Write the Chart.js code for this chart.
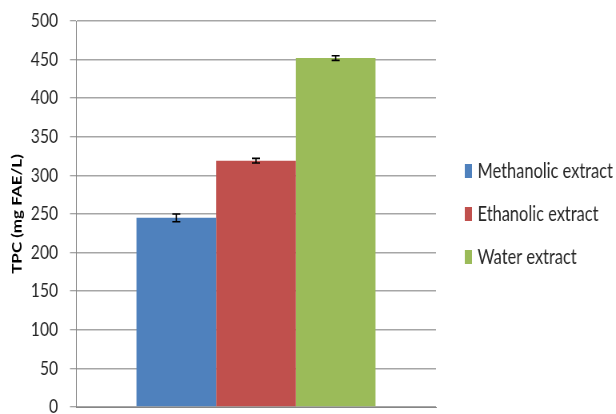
<!DOCTYPE html>
<html>
<head>
<meta charset="utf-8">
<script src="https://cdn.jsdelivr.net/npm/chart.js@4.4.0/dist/chart.umd.min.js"></script>
<style>
  html, body { margin: 0; padding: 0; background: #fff; overflow: hidden; }
  #wrap { width: 770px; height: 428px; transform: scaleX(0.8); transform-origin: 0 0; }
</style>
</head>
<body>
<div id="wrap"><canvas id="c" width="770" height="428"></canvas></div>
<script>
// ── Data ───────────────────────────────────────────────────────
const categories = [''];
const seriesNames = ['Methanolic extract', 'Ethanolic extract', 'Water extract'];
const seriesValues = [245, 319, 452];
const seriesErrors = [5, 3, 3];
const seriesColors = ['#4f81bd', '#c0504d', '#9bbb59'];
const yTicks = [0, 50, 100, 150, 200, 250, 300, 350, 400, 450, 500];

const FONT = 'Lato, "Open Sans", sans-serif';

// error bars drawn off the y scale
const errorBars = {
    id: 'errorBars',
    afterDatasetsDraw(chart) {
        const ctx = chart.ctx;
        const y = chart.scales.y;
        ctx.save();
        ctx.strokeStyle = '#000';
        ctx.lineWidth = 1.6;
        chart.data.datasets.forEach((ds, i) => {
            const bar = chart.getDatasetMeta(i).data[0];
            const top = y.getPixelForValue(ds.data[0] + seriesErrors[i]);
            const bot = y.getPixelForValue(ds.data[0] - seriesErrors[i]);
            const x = bar.x, w = 5;
            ctx.beginPath();
            ctx.moveTo(x, top); ctx.lineTo(x, bot);
            ctx.moveTo(x - w, top); ctx.lineTo(x + w, top);
            ctx.moveTo(x - w, bot); ctx.lineTo(x + w, bot);
            ctx.stroke();
        });
        ctx.restore();
    },
};

// legend on the right, placed against the chart area
const sideLegend = {
    id: 'sideLegend',
    afterDraw(chart) {
        const ctx = chart.ctx;
        const area = chart.chartArea;
        const mid = (area.top + area.bottom) / 2;
        const step = 43;
        ctx.save();
        ctx.font = '20.5px ' + FONT;
        ctx.textBaseline = 'middle';
        chart.data.datasets.forEach((ds, i) => {
            const cy = mid + (i - 1) * step;
            ctx.fillStyle = ds.backgroundColor;
            ctx.fillRect(area.right + 36, cy - 7, 9, 14);
            ctx.fillStyle = '#262626';
            ctx.fillText(ds.label, area.right + 52, cy);
        });
        ctx.restore();
    },
};

new Chart(document.getElementById('c').getContext('2d'), {
    type: 'bar',
    data: {
        labels: categories,
        datasets: seriesNames.map((name, i) => ({
            label: name,
            data: [seriesValues[i]],
            backgroundColor: seriesColors[i],
            borderWidth: 0,
            categoryPercentage: 0.664,
            barPercentage: 1,
        })),
    },
    options: {
        responsive: false,
        animation: false,
        layout: { autoPadding: false, padding: { top: 21, right: 225, bottom: 21, left: 0 } },
        plugins: {
            legend: { display: false },
            tooltip: { enabled: false },
        },
        scales: {
            x: {
                ticks: { display: false },
                grid: { display: false },
                border: { display: true, color: '#868686', width: 1 },
                afterFit: s => { s.height = 0; },
            },
            y: {
                min: 0,
                max: 500,
                afterBuildTicks: s => { s.ticks = yTicks.map(v => ({ value: v })); },
                ticks: {
                    color: '#262626',
                    font: { family: FONT, size: 19.5, lineHeight: 0.5 },
                    padding: 15,
                },
                grid: {
                    color: '#a6a6a6',
                    lineWidth: 1.5,
                    tickLength: 7.5,
                    tickColor: '#868686',
                    tickWidth: 1,
                },
                border: { display: true, color: '#868686', width: 1 },
                title: {
                    display: true,
                    text: 'TPC (mg FAE/L)',
                    color: '#000',
                    font: { family: FONT, size: 17, weight: 'bold' },
                    padding: { top: 11, bottom: 0 },
                },
                afterFit: s => { s.width = 95; },
            },
        },
    },
    plugins: [errorBars, sideLegend],
});
</script>
</body>
</html>
